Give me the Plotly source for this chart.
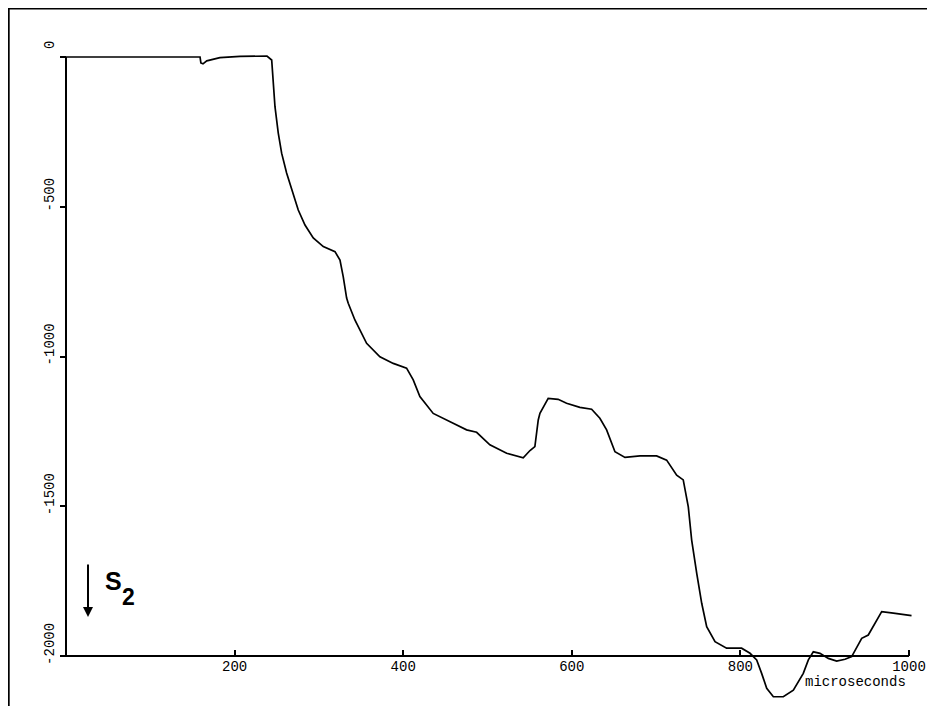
import plotly.graph_objects as go

# ---- data (time in microseconds, signal value) ----
time_us = [0, 159, 160, 162.5, 167, 182.6, 206.4, 238.4, 244, 244.4, 247.9, 251.8,
           255.8, 261.7, 267.7, 275.5, 283.5, 293.3, 305.2, 319.1, 325, 328.9, 332.9,
           334.8, 342.7, 356.6, 372.4, 388.2, 404, 411.9, 419.8, 435.6, 459.3, 475.2,
           487.1, 502.8, 522.7, 542.4, 550.4, 556.2, 560.2, 562.2, 572, 583.8, 593.8,
           609.6, 623.5, 633.3, 641.3, 651.2, 663.1, 680.9, 700.6, 712.5, 724.4, 732.2,
           738.2, 742.2, 748.2, 754.1, 760, 769.9, 783.6, 801.4, 811.4, 819.3, 825.2,
           831.2, 839.1, 850.9, 862.8, 874.6, 880.6, 886.5, 894.4, 904.3, 914.2, 924.1,
           932, 937.9, 943.9, 951.7, 959.7, 967.6, 981.4, 1003]
signal = [0, 0, -20, -23, -13, -2, 2, 3, -10, -30, -166, -254,
          -321, -387, -444, -511, -561, -604, -633, -650, -678, -734, -805,
          -822, -878, -956, -1001, -1023, -1039, -1078, -1134, -1190, -1223, -1245,
          -1253, -1295, -1323, -1338, -1314, -1301, -1212, -1190, -1140, -1143, -1156,
          -1170, -1176, -1206, -1245, -1318, -1337, -1332, -1332, -1346, -1396, -1412,
          -1502, -1613, -1724, -1824, -1902, -1952, -1974, -1974, -1991, -2013, -2058,
          -2108, -2136, -2136, -2114, -2058, -2013, -1986, -1991, -2008, -2017, -2011,
          -2002, -1969, -1941, -1930, -1891, -1852, -1857, -1865]

x_tick_vals = [200, 400, 600, 800, 1000]
x_tick_text = ["200", "400", "600", "800", "1000"]
y_tick_vals = [0, -500, -1000, -1500, -2000]
y_tick_text = ["0", "-500", "-1000", "-1500", "-2000"]
x_label = "microseconds"
series_label = "S"
series_sub = "2"

# ---- geometry (page pixels; the page body adds an 8px offset) ----
OFF = 8
W, H = 935 - OFF, 706 - OFF
X0_PX, X_PER = 66 - OFF, 0.843      # figure pixel of x=0, pixels per unit
Y0_PX, Y_PER = 57 - OFF, 0.2995     # figure pixel of y=0, pixels per unit


def px_to_x(px):  # px given in page coordinates
    return (px - OFF - X0_PX) / X_PER


def py_to_y(py):
    return -(py - OFF - Y0_PX) / Y_PER


xr = [(0 - X0_PX) / X_PER, (W - X0_PX) / X_PER]
yr = [-(H - Y0_PX) / Y_PER, -(0 - Y0_PX) / Y_PER]

mono = "Liberation Mono, DejaVu Sans Mono, monospace"

fig = go.Figure()
fig.add_trace(go.Scatter(x=time_us, y=signal, mode="lines",
                         line=dict(color="black", width=1.7),
                         hoverinfo="skip", showlegend=False))

# axis lines spanning the data box only
fig.add_shape(type="line", xref="x", yref="y", x0=0, x1=1000, y0=-2000, y1=-2000,
              line=dict(color="black", width=2))
fig.add_shape(type="line", xref="x", yref="y", x0=0, x1=0, y0=0, y1=-2000,
              line=dict(color="black", width=2))
# page frame (top and left edges)
fig.add_shape(type="line", xref="paper", yref="paper", x0=0.5 / W, x1=1, y0=1 - 0.5 / H, y1=1 - 0.5 / H,
              line=dict(color="black", width=2))
fig.add_shape(type="line", xref="paper", yref="paper", x0=0.7 / W, x1=0.7 / W, y0=1, y1=0,
              line=dict(color="black", width=2))

fig.update_layout(
    width=W, height=H,
    margin=dict(l=0, r=0, t=0, b=0),
    paper_bgcolor="white", plot_bgcolor="white",
    xaxis=dict(range=xr, autorange=False, showgrid=False, zeroline=False, showline=False,
               anchor="free", position=1 - (656 - OFF) / H,
               tickmode="array", tickvals=x_tick_vals, ticktext=x_tick_text,
               ticks="inside", ticklen=6, tickwidth=1.5, tickcolor="black",
               tickfont=dict(family=mono, size=14, color="black")),
    yaxis=dict(range=yr, autorange=False, showgrid=False, zeroline=False, showline=False,
               anchor="free", position=X0_PX / W,
               tickmode="array", tickvals=y_tick_vals, ticktext=y_tick_text,
               ticks="outside", ticklen=6, tickwidth=1.5, tickcolor="black",
               tickangle=-90, ticklabelshift=-10,
               tickfont=dict(family=mono, size=14, color="black")),
)

# axis title at bottom right
fig.add_annotation(x=px_to_x(855), y=py_to_y(682), text=x_label, showarrow=False,
                   font=dict(family=mono, size=14, color="black"))

# S2 marker with downward arrow
fig.add_annotation(x=px_to_x(88), y=py_to_y(617), ax=0, ay=-54, text="",
                   showarrow=True, arrowhead=2, arrowsize=1, arrowwidth=2,
                   arrowcolor="black")
fig.add_annotation(x=px_to_x(113), y=py_to_y(581), text=series_label, showarrow=False,
                   font=dict(family="Liberation Sans, Arial, sans-serif", size=25,
                             color="black", weight="bold"))
fig.add_annotation(x=px_to_x(128), y=py_to_y(597), text=series_sub, showarrow=False,
                   font=dict(family="Liberation Sans, Arial, sans-serif", size=23,
                             color="black", weight="bold"))

fig.write_html("out.html")
